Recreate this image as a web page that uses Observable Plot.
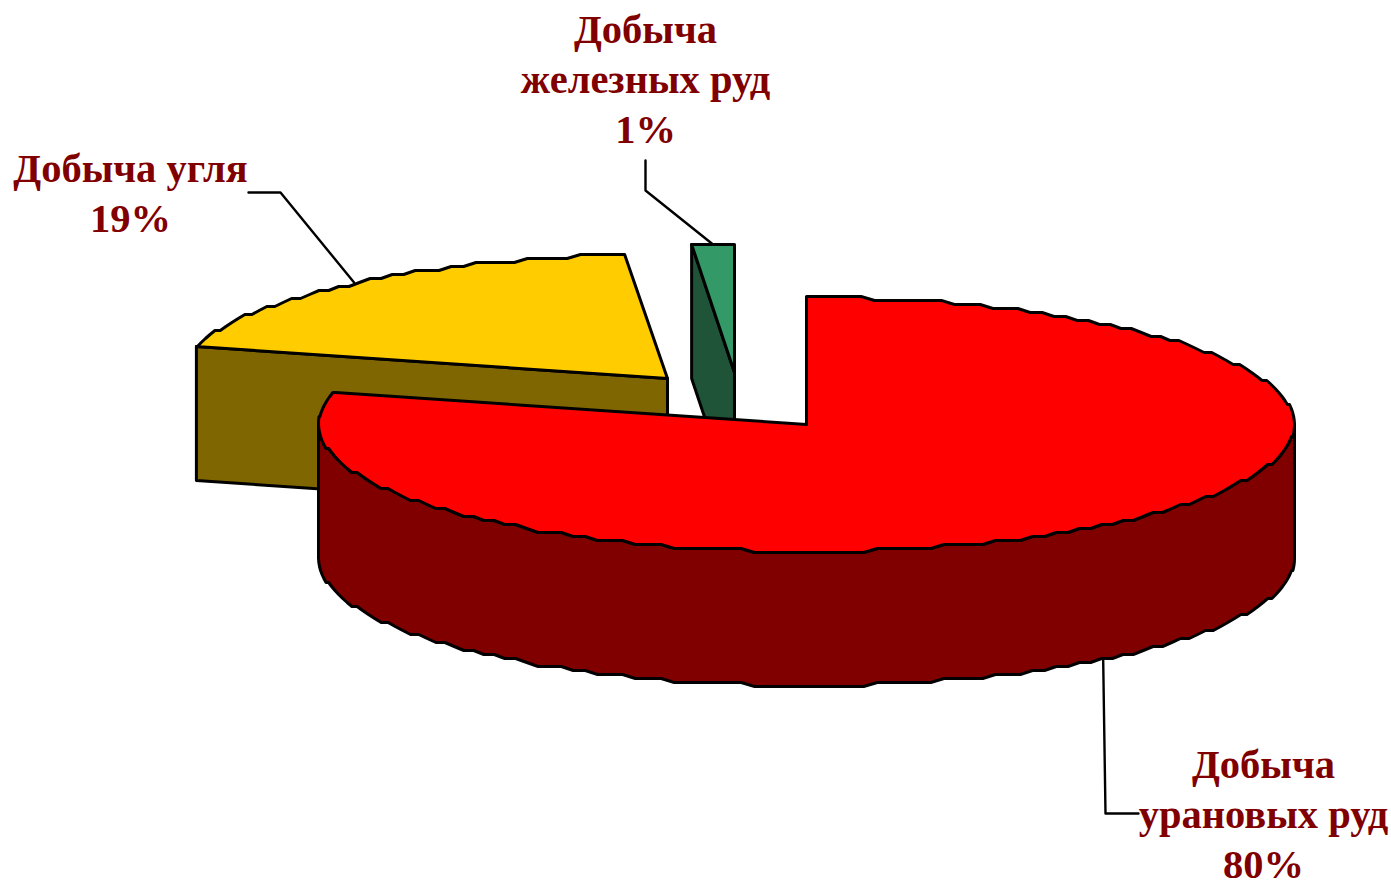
<!DOCTYPE html>
<html>
<head>
<meta charset="utf-8">
<style>html,body{margin:0;padding:0;background:#fff}svg{display:block}</style>
<script src="https://cdn.jsdelivr.net/npm/d3@7"></script>
<script src="https://cdn.jsdelivr.net/npm/@observablehq/plot@0.6"></script>
</head>
<body>
<script>
// Data
const names = ["Добыча урановых руд", "Добыча угля", "Добыча железных руд"];
const values = [79.2, 19.4, 1.4];
const labels = ["Добыча\nурановых руд\n80%", "Добыча угля\n19%", "Добыча\nжелезных руд\n1%"];

// Pie styling / projection
const topColors = ["#ff0000", "#ffcc00", "#339966"];
const wallColors = ["#800000", "#806600", "#1f5438"];
const RX = 488, DEPTH = 134;
const radiiY = [127, 124, 127];
const apex = [[806, 424], [667, 378], [734, 372]];
const elbows = [
  [[1105, 813], [1138, 813]],
  [[280, 192], [248, 192]],
  [[645, 190], [645, 160]]
];
const labelAt = [[1263, 811], [130, 190], [645, 76]];

// Build polygons from the values; the rim is drawn as short chords snapped
// to a coarse grid, like the stepped outline of the original metafile chart.
const total = d3.sum(values);
let acc = 0;
const slices = values.map((v, i) => {
  const a0 = acc / total * 2 * Math.PI; acc += v;
  return {i, a0, a1: acc / total * 2 * Math.PI, apex: apex[i], ry: radiiY[i]};
});
const STEP = 0.028, SNAP = 4;
const pt = (s, a, dz = 0) => [
  s.apex[0] + RX * Math.sin(a),
  s.apex[1] + dz + Math.round(-s.ry * Math.cos(a) / SNAP) * SNAP
];
const arc = (s, a0, a1, dz = 0) => {
  const lo = Math.min(a0, a1), hi = Math.max(a0, a1);
  const grid = [lo, ...d3.range(Math.ceil(lo / STEP + 0.01), hi / STEP).map(k => k * STEP), hi];
  if (a1 < a0) grid.reverse();
  return grid.map(a => pt(s, a, dz));
};
const polys = [];
const add = (id, pts) => {
  [...pts, pts[0]].forEach((p, k) => polys.push({id, x: p[0], y: p[1], k}));
};
const [red, yellow, green] = slices;
// back to front
add("yellowWall", [pt(yellow, yellow.a0), yellow.apex, [yellow.apex[0], yellow.apex[1] + DEPTH], pt(yellow, yellow.a0, DEPTH)]);
add("yellowTop", [yellow.apex, ...arc(yellow, yellow.a0, yellow.a1)]);
add("greenWall", [pt(green, green.a0), green.apex, [green.apex[0], green.apex[1] + DEPTH], pt(green, green.a0, DEPTH)]);
add("greenTop", [green.apex, ...arc(green, green.a0, green.a1)]);
add("redWall", [...arc(red, Math.PI / 2, 3 * Math.PI / 2), ...arc(red, 3 * Math.PI / 2, Math.PI / 2, DEPTH)]);
add("redTop", [red.apex, ...arc(red, red.a0, red.a1)]);

const ids = ["yellowWall", "yellowTop", "greenWall", "greenTop", "redWall", "redTop"];
const idColors = [wallColors[1], topColors[1], wallColors[2], topColors[2], wallColors[0], topColors[0]];

// Leader lines start at the middle of each slice's rim
const leaders = slices.flatMap(s => {
  const mid = (s.a0 + s.a1) / 2;
  const front = Math.cos(mid) < 0;
  const start = pt(s, mid, front ? DEPTH : 0);
  return [start, ...elbows[s.i]].map(p => ({i: s.i, x: p[0], y: p[1]}));
});
const labelRows = labels.map((t, i) => ({t, x: labelAt[i][0], y: labelAt[i][1], name: names[i]}));

const chart = Plot.plot({
  width: 1391, height: 881,
  margin: 0,
  x: {domain: [0, 1391], range: [0, 1391], axis: null},
  y: {domain: [0, 881], range: [0, 881], axis: null},
  color: {domain: ids, range: idColors},
  style: {background: "#fff"},
  marks: [
    Plot.line(leaders, {x: "x", y: "y", z: "i", stroke: "#000", strokeWidth: 2.4}),
    Plot.line(polys, {
      x: "x", y: "y", z: "id", fill: "id", stroke: "#000", strokeWidth: 3,
      strokeLinejoin: "round", curve: "linear", sort: null
    }),
    Plot.text(labelRows, {
      x: "x", y: "y", text: "t", fill: "#800000",
      fontFamily: "Liberation Serif", fontWeight: "bold", fontSize: 40.5,
      lineHeight: 1.235, lineAnchor: "middle", textAnchor: "middle"
    })
  ]
});
document.body.appendChild(chart);
</script>
</body>
</html>
